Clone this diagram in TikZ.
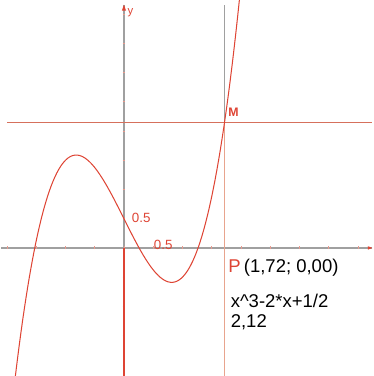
\documentclass[tikz,border=0pt]{standalone}
\usepackage{fontspec}
\setmainfont{Liberation Sans}
\usepackage{tikz}
\usetikzlibrary{arrows.meta,positioning,calc}
\definecolor{curvered}{HTML}{DE4434}
\definecolor{axisgray}{HTML}{A0A0A0}
\definecolor{guide}{HTML}{D6705C}
\definecolor{lowguide}{HTML}{E8A48E}
\definecolor{tickred}{HTML}{E89A8E}
\tikzset{
  axis/.style={axisgray, line width=0.6pt},
  ticklbl/.style={font=\fontsize{6.5}{7}\selectfont, curvered, inner sep=0pt},
  readout/.style={font=\fontsize{9}{10}\selectfont, black, anchor=west, inner sep=0pt}
}

\begin{document}
\begin{tikzpicture}[x=1cm,y=1cm]
  \useasboundingbox (-2.12,-2.19) rectangle (4.27,4.24);

  % Axes
  \coordinate (xl) at (-2.1,0);
  \coordinate (xr) at (4.25,0);
  \coordinate (yb) at (0,-2.19);
  \coordinate (yt) at (0,4.16);
  \draw[axis] (xl) -- (xr);
  \draw[axis] (yb) -- (yt);
  \fill[curvered] (xr) -- ++(-0.08,0.03) -- ++(0,-0.06) -- cycle;
  \fill[curvered] (yt) -- ++(-0.035,-0.1) -- ++(0.07,0) -- cycle;
  \node[font=\fontsize{5.5}{6}\selectfont, curvered] (ylbl) at (0.11,4.03) {y};

  % Ticks every 0.5
  \foreach \t in {-2,-1.5,...,4.1}
    \draw[tickred, line width=0.3pt] (\t,-0.025) -- (\t,0.025);
  \foreach \t in {-2,-1.5,...,4.1}
    \draw[tickred, line width=0.3pt] (-0.025,\t) -- (0.025,\t);

  % Tick labels
  \node[ticklbl, anchor=west] (half y) at (0.13,0.52) {0.5};
  \node[ticklbl] (half x) at (0.67,0.05) {0.5};

  % Origin stroke downward
  \coordinate (O) at (0,0);
  \draw[curvered, line width=1.1pt] (O) -- (yb);

  % Point M and guide lines
  \coordinate (M) at (1.72,2.148);
  \coordinate (Mtop) at (1.72,4.15);
  \coordinate (Mbot) at (1.72,-2.19);
  \coordinate (hl) at (-2.0,2.148);
  \coordinate (hr) at (4.25,2.148);
  \draw[guide, line width=0.6pt] (hl) -- (hr);
  \draw[axisgray, line width=0.9pt] (Mtop) -- (M);
  \draw[lowguide, line width=0.6pt] (M) -- (Mbot);
  \node[font=\fontsize{6}{7}\selectfont\bfseries, curvered, anchor=south west, inner sep=0pt]
    (Mlbl) at (1.78,2.24) {M};

  % Curve f(x) = x^3 - 2x + 1/2
  \draw[curvered, line width=0.5pt, domain=-1.86:1.975, samples=120]
    plot (\x, {\x*\x*\x - 2*\x + 0.5});

  % Readout
  \node[readout] (P) at (1.78,-0.34) {\textcolor{curvered}{P}\,(1,72; 0,00)};
  \node[readout] (fx) at (1.82,-0.905) {x\^{}3-2*x+1/2};
  \node[readout] (val) at (1.82,-1.27) {2,12};
\end{tikzpicture}
\end{document}
